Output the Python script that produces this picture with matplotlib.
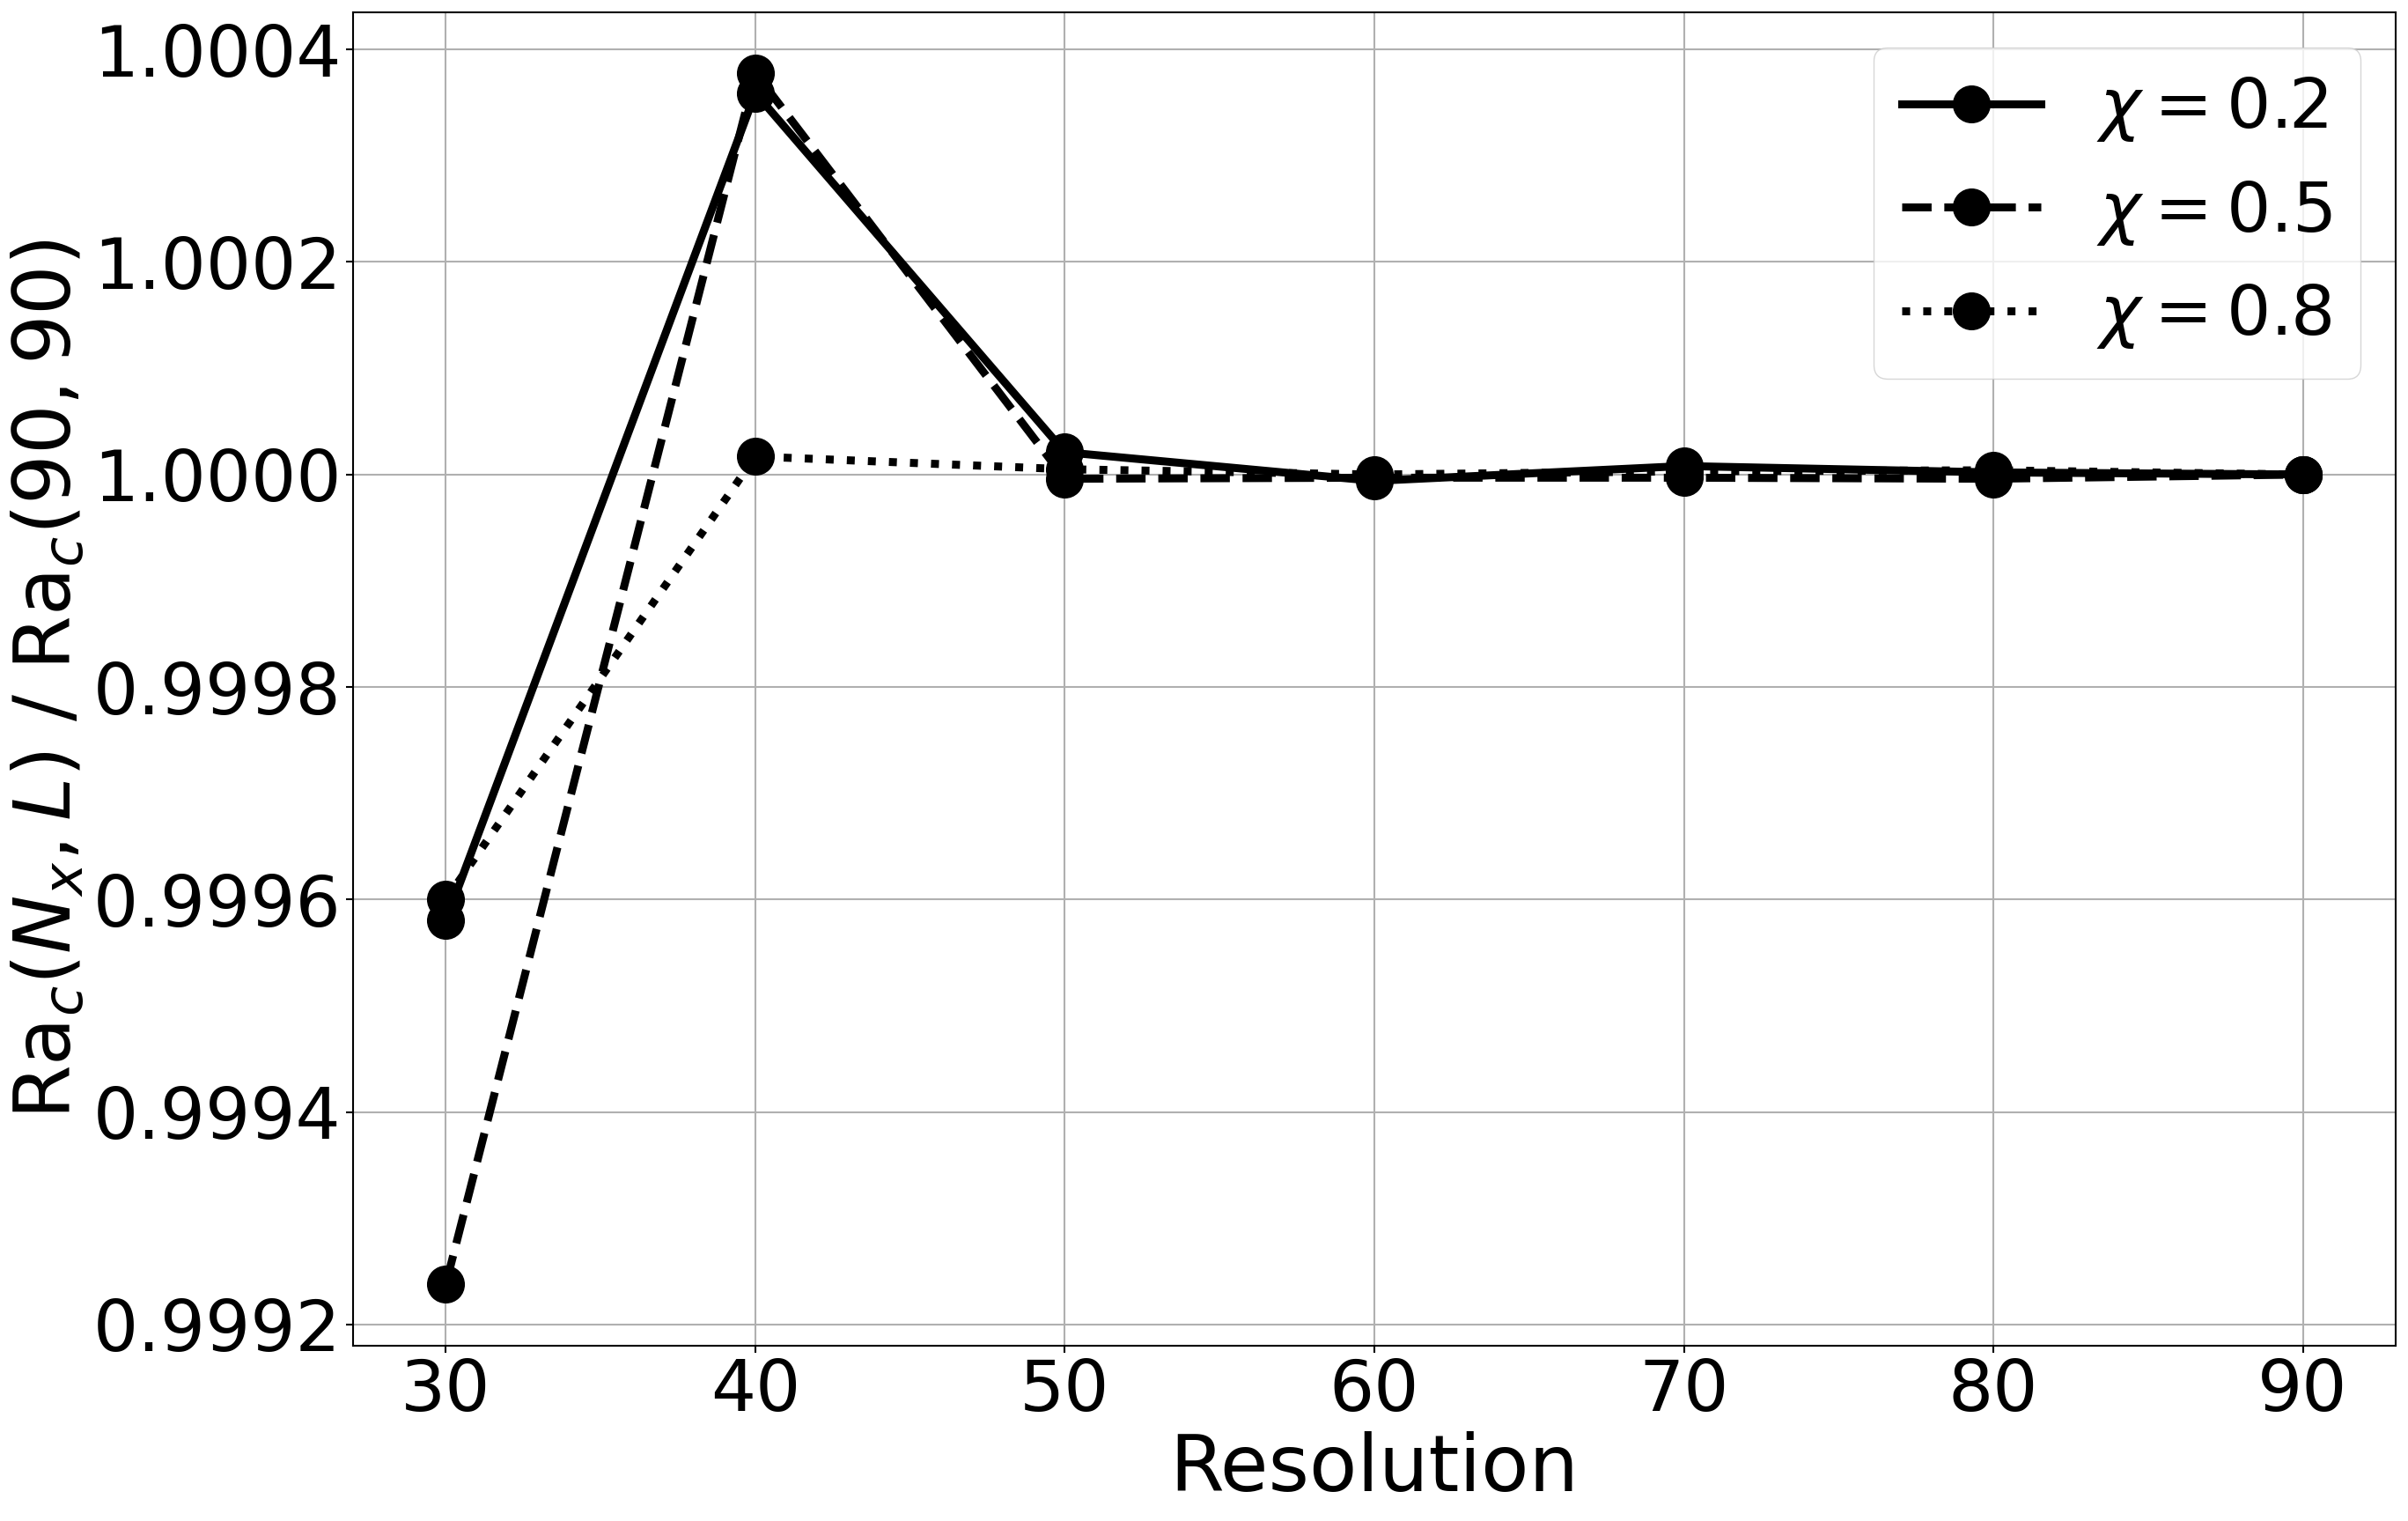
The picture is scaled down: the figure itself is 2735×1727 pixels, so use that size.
import numpy as np
import matplotlib
matplotlib.use("Agg")
import matplotlib.pyplot as plt

# resolutions tested
res = [30, 40, 50, 60, 70, 80, 90]

# Ra_c normalised by the 90x90 result
ra_chi02 = [0.99958, 1.000359, 1.000021, 0.999994, 1.000008, 1.000002, 1.0]
ra_chi05 = [0.999238, 1.000378, 0.999996, 0.999997, 0.999997, 0.999996, 1.0]
ra_chi08 = [0.99960, 1.000017, 1.000005, 1.0, 1.000003, 1.000004, 1.0]

labels = [r"$\chi = 0.2$", r"$\chi = 0.5$", r"$\chi = 0.8$"]

fig = plt.figure(figsize=(27.35, 17.27), dpi=100)
ax = fig.add_axes([0.1466, 0.1152, 0.8483, 0.8767])

ax.plot(res, ra_chi02, "k-o", lw=6.5, ms=30, label=labels[0])
ax.plot(res, ra_chi05, "k--o", lw=6.5, ms=30, label=labels[1])
ax.plot(res, ra_chi08, "k:o", lw=6.5, ms=30, label=labels[2])

ax.set_xlabel("Resolution", fontsize=64)
ax.set_ylabel(r"Ra$_c(N_x, L)$ / Ra$_c(90, 90)$", fontsize=64)
ax.tick_params(labelsize=58, width=1.5, length=6)
ax.set_yticks([0.9992, 0.9994, 0.9996, 0.9998, 1.0, 1.0002, 1.0004])
ax.set_yticklabels(["0.9992", "0.9994", "0.9996", "0.9998", "1.0000", "1.0002", "1.0004"])
ax.set_ylim(0.99918, 1.000435)
for s in ax.spines.values():
    s.set_linewidth(1.5)
ax.grid(lw=1.5)
ax.legend(fontsize=57, loc="upper right")

fig.savefig("out.png", dpi=100)
